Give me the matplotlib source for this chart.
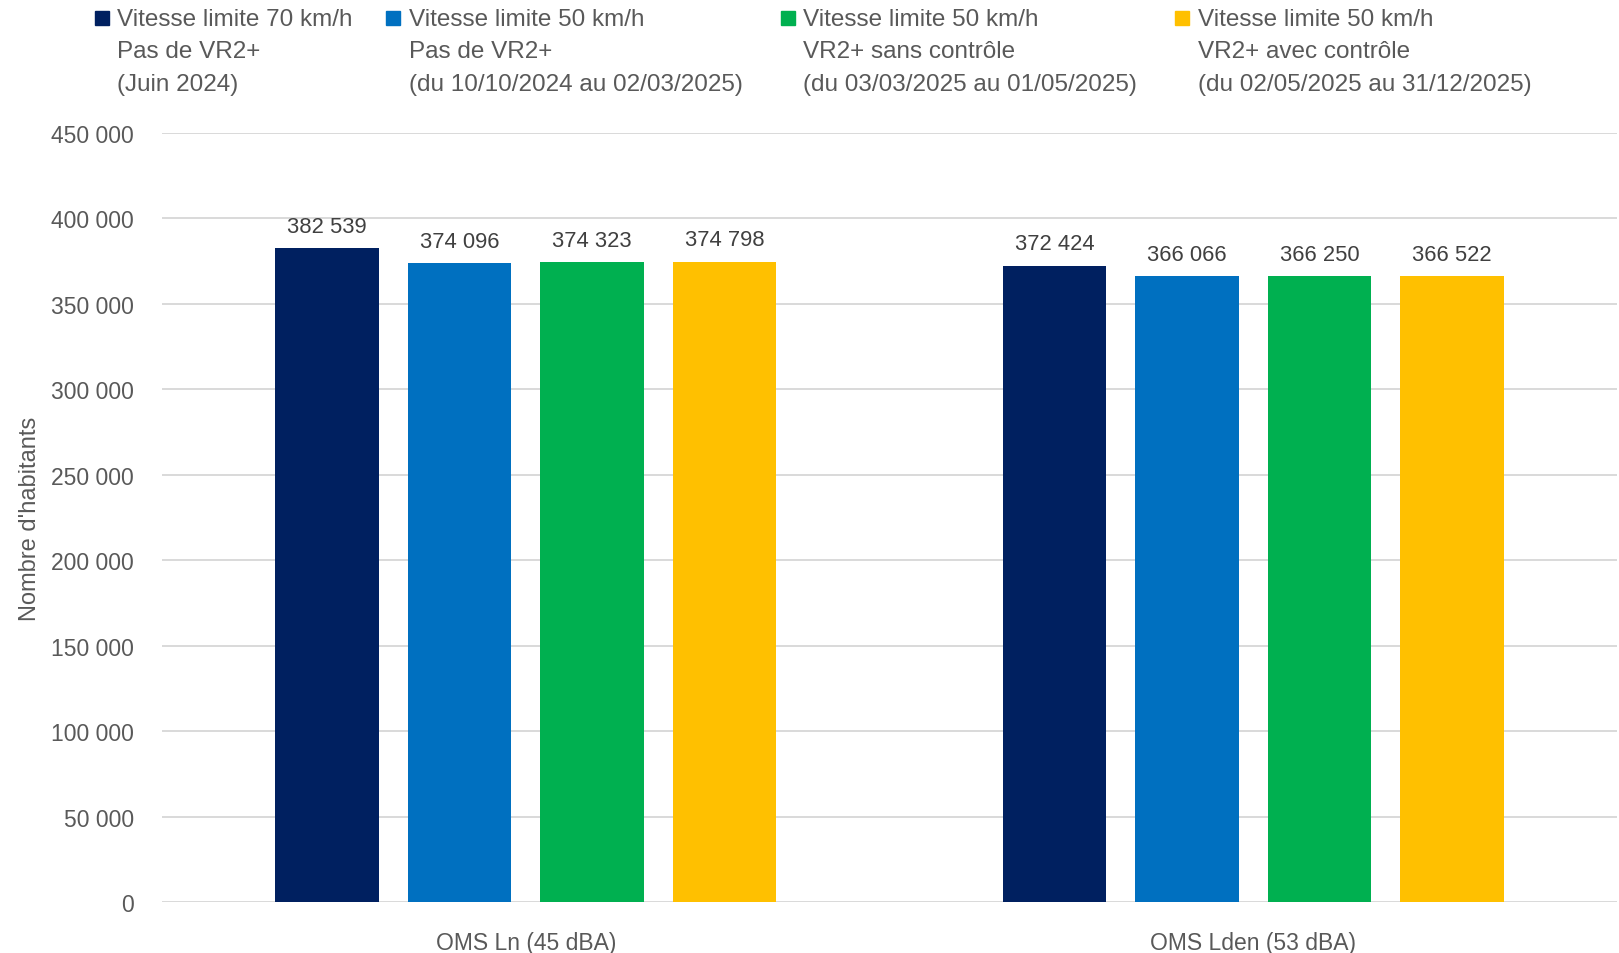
import matplotlib
matplotlib.use("Agg")
import matplotlib.pyplot as plt
from matplotlib.patches import Rectangle
from matplotlib.ticker import FuncFormatter
import numpy as np

plt.rcParams['font.family'] = ['Liberation Sans', 'DejaVu Sans']

categories = ["OMS Ln (45 dBA)", "OMS Lden (53 dBA)"]
series_labels = [
    "Vitesse limite 70 km/h\nPas de VR2+\n(Juin 2024)",
    "Vitesse limite 50 km/h\nPas de VR2+\n(du 10/10/2024 au 02/03/2025)",
    "Vitesse limite 50 km/h\nVR2+ sans contrôle\n(du 03/03/2025 au 01/05/2025)",
    "Vitesse limite 50 km/h\nVR2+ avec contrôle\n(du 02/05/2025 au 31/12/2025)",
]
values_70_sans_vr2 = [382539, 372424]
values_50_sans_vr2 = [374096, 366066]
values_50_vr2_sans_controle = [374323, 366250]
values_50_vr2_avec_controle = [374798, 366522]
series_values = [values_70_sans_vr2, values_50_sans_vr2,
                 values_50_vr2_sans_controle, values_50_vr2_avec_controle]
colors = ["#002060", "#0070C0", "#00B050", "#FFC000"]
yticks = list(range(0, 450001, 50000))

TEXT = "#595959"
GRID = "#D9D9D9"
W, H = 1619, 954

fig = plt.figure(figsize=(W / 100, H / 100), dpi=100)
ax = fig.add_axes([162 / W, 1 - 903 / H, (1617 - 162) / W, (903 - 134) / H])

def fmt_thousands(v):
    return f"{int(round(v)):,}".replace(",", " ")

x = np.arange(len(categories))
bar_w = 0.142
step = 0.182
for i, (vals, col) in enumerate(zip(series_values, colors)):
    pos = x + (i - 1.5) * step
    bars = ax.bar(pos, vals, width=bar_w, color=col, zorder=3)
    for b, v in zip(bars, vals):
        ax.annotate(fmt_thousands(v), (b.get_x() + b.get_width() / 2, v),
                    xytext=(0, 8), textcoords="offset points",
                    ha="center", va="bottom", fontsize=15.8, color="#404040")

ax.set_xlim(-0.5, 1.5)
ax.set_ylim(0, 450000)
ax.set_yticks(yticks)
ax.yaxis.set_major_formatter(FuncFormatter(lambda v, p: fmt_thousands(v)))
ax.set_xticks(x)
ax.set_xticklabels(categories)
ax.tick_params(axis="both", length=0, colors=TEXT, labelsize=16.5)
ax.tick_params(axis="y", pad=20)
ax.tick_params(axis="x", pad=21)
ax.grid(axis="y", color=GRID, linewidth=1.4, zorder=0)
for s in ax.spines.values():
    s.set_visible(False)
ax.set_ylabel("Nombre d'habitants", fontsize=17, color=TEXT, labelpad=12)
ax.yaxis.set_label_coords(-0.083, 0.5)

# Legend drawn line by line at the top of the figure
marker_x = [95, 386, 781, 1175]
text_x = [117, 409, 803, 1198]
line_y = [19.5, 52, 85.5]
for mx, tx, lab, col in zip(marker_x, text_x, series_labels, colors):
    fig.patches.append(Rectangle((mx / W, 1 - 26 / H), 14 / W, 14 / H,
                                 transform=fig.transFigure, color=col))
    for ly, line in zip(line_y, lab.split("\n")):
        fig.text(tx / W, 1 - ly / H, line, ha="left", va="center",
                 fontsize=17.5, color=TEXT)

fig.savefig("out.png", dpi=100)
